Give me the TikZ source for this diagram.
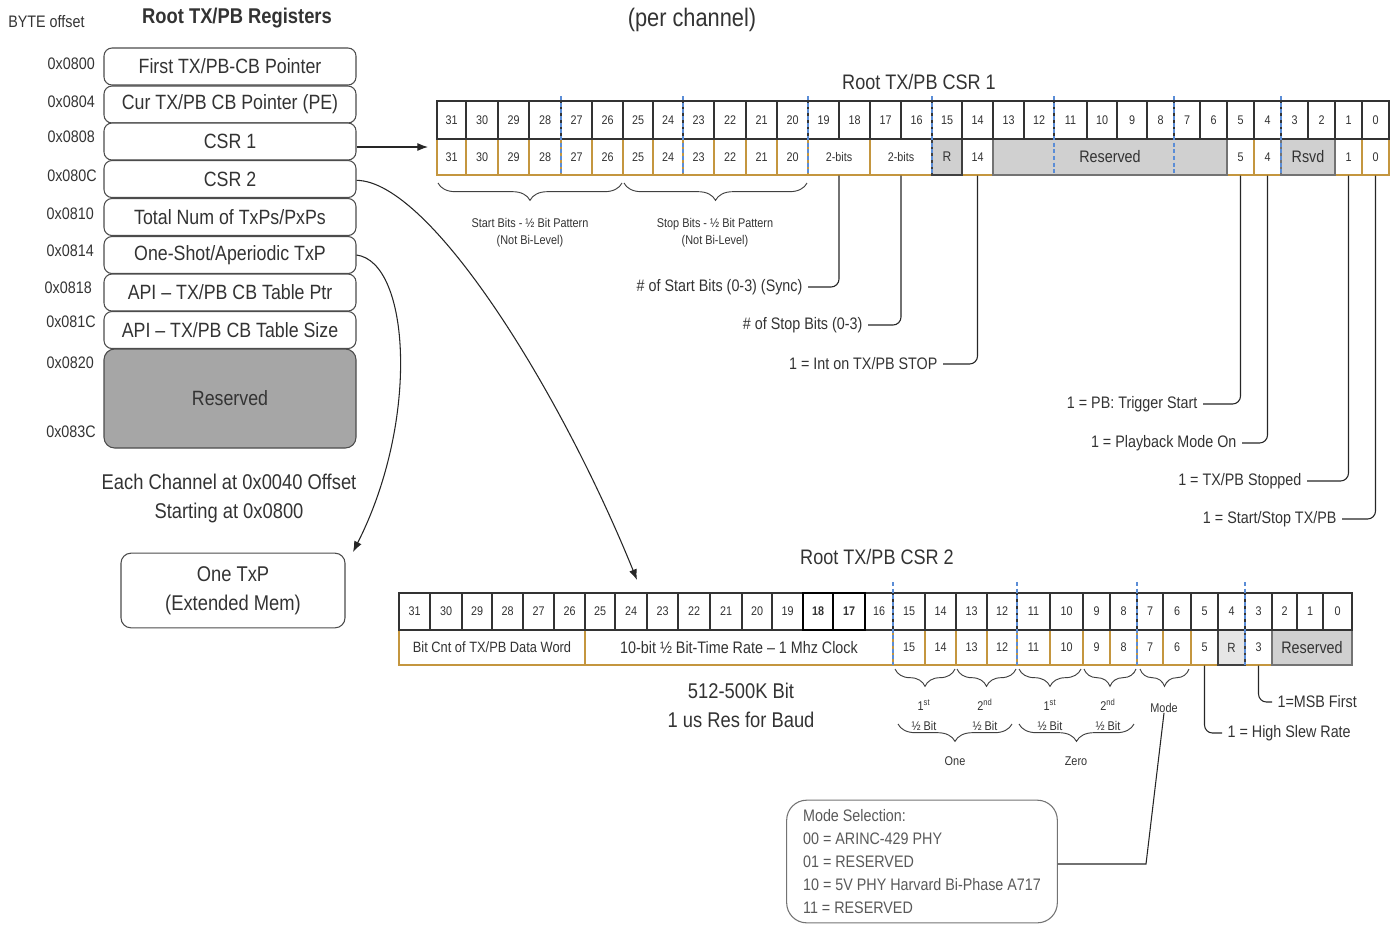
\documentclass[tikz,border=0pt]{standalone}
\usepackage{fontspec}
\setmainfont{Liberation Sans}[FakeStretch=0.86]
\usetikzlibrary{arrows.meta,decorations.pathreplacing}
\definecolor{orng}{HTML}{C4963F}
\definecolor{txt}{HTML}{333333}
\definecolor{resgray}{HTML}{D0D0D0}
\definecolor{darkres}{HTML}{A6A6A6}
\definecolor{lightr}{HTML}{E6E6E6}
\definecolor{dblue}{HTML}{5B8DD6}
\definecolor{modetxt}{HTML}{595959}
\newcommand{\fsz}[2]{\fontsize{#1}{#2}\selectfont}
\begin{document}
\begin{tikzpicture}[x=0.75pt,y=-0.75pt,
  reg/.style={draw=black!70, line width=0.8pt, fill=white, rounded corners=6pt, minimum width=189pt, minimum height=27.75pt, inner sep=0pt, font=\fsz{15.5pt}{18pt}, text=txt},
  offs/.style={anchor=east, inner sep=0pt, font=\fsz{12.5pt}{15pt}, text=txt},
  cellA/.style={draw=black!80, line width=0.8pt, fill=white, inner sep=0pt, font=\fsz{9.4pt}{11pt}, text=txt},
  cellO/.style={draw=orng, line width=0.9pt, fill=white, inner sep=0pt, font=\fsz{9.4pt}{11pt}, text=txt},
  cellG/.style={draw=black!55, line width=0.8pt, fill=resgray, inner sep=0pt, font=\fsz{12.5pt}{14pt}, text=txt},
  bluedash/.style={draw=dblue, line width=0.8pt, dash pattern=on 3pt off 2pt},
  brc/.style={decorate, decoration={brace, mirror, amplitude=#1}, draw=black!75, line width=0.7pt},
  small/.style={inner sep=0pt, font=\fsz{9.5pt}{12.75pt}, text=txt, align=center},
  lbl/.style={inner ysep=0pt, inner xsep=4pt, font=\fsz{12.5pt}{15pt}, text=txt},
  lead/.style={draw=black!85, line width=0.8pt, rounded corners=6pt},
  arr/.style={draw=black!85, line width=0.8pt, -{Latex[length=8pt,width=6pt]}},
  big/.style={inner sep=0pt, font=\fsz{16pt}{21.75pt}, text=txt, align=center}
]
\useasboundingbox (0,0) rectangle (1395,926);

% ---------- left panel ----------
\node[anchor=west, inner sep=0pt, font=\fsz{12.5pt}{15pt}, text=txt] (byte) at (8,22) {BYTE offset};
\node[inner sep=0pt, font=\bfseries\fsz{16pt}{19pt}, text=txt] (title) at (237,18) {Root TX/PB Registers};
\node[inner sep=0pt, font=\fsz{19pt}{22pt}, text=txt] (perch) at (692,20) {(per channel)};

\node[reg] (r1) at (230,66.5) {First TX/PB-CB Pointer};
\node[reg] (r2) at (230,104.5) {Cur TX/PB CB Pointer (PE)};
\node[reg] (r3) at (230,141.5) {CSR 1};
\node[reg] (r4) at (230,179) {CSR 2};
\node[reg] (r5) at (230,217) {Total Num of TxPs/PxPs};
\node[reg] (r6) at (230,255) {One-Shot/Aperiodic TxP};
\node[reg] (r7) at (230,292.5) {API -- TX/PB CB Table Ptr};
\node[reg] (r8) at (230,330) {API -- TX/PB CB Table Size};
\node[reg, fill=darkres, minimum height=74.25pt, rounded corners=8pt] (r9) at (230,398.5) {Reserved};

\node[offs] (o1) at (95,64) {0x0800};
\node[offs] (o2) at (95,102) {0x0804};
\node[offs] (o3) at (95,137) {0x0808};
\node[offs] (o4) at (97,176) {0x080C};
\node[offs] (o5) at (94,214) {0x0810};
\node[offs] (o6) at (94,251) {0x0814};
\node[offs] (o7) at (92,288) {0x0818};
\node[offs] (o8) at (96,322) {0x081C};
\node[offs] (o9) at (94,363) {0x0820};
\node[offs] (o10) at (96,432) {0x083C};

\node[big] (each) at (229,498.5) {Each Channel at 0x0040 Offset\\Starting at 0x0800};
\node[draw=black!70, line width=0.8pt, rounded corners=7.5pt, minimum width=168pt, minimum height=56pt, big] (onetxp) at (233,590.5) {One TxP\\(Extended Mem)};

% ---------- CSR 1 ----------
\node[inner sep=0pt, font=\fsz{15.75pt}{18pt}, text=txt] (csr1t) at (919,82) {Root TX/PB CSR 1};

\foreach \l/\r/\n in {437/466/31,466/498/30,498/529/29,529/561/28,561/592/27,592/623/26,623/653/25,653/683/24,683/714/23,714/746/22,746/777/21,777/808/20,962/993/14,1227/1254/5,1254/1281/4,1335/1362/1,1362/1389/0}{
  \node[cellO, minimum width={(\r-\l)*0.75pt}, minimum height=27pt] (c1s\n) at ({(\l+\r)/2},157) {\n};
}
\node[cellO, minimum width={62*0.75pt}, minimum height=27pt] (c1s19) at (839,157) {2-bits};
\node[cellO, minimum width={62*0.75pt}, minimum height=27pt] (c1s17) at (901,157) {2-bits};
\node[cellG, fill=resgray, draw=black!75, minimum width={30*0.75pt}, minimum height=27pt, font=\fsz{10.5pt}{12pt}] (c1s15) at (947,157) {R};
\node[cellG, minimum width={234*0.75pt}, minimum height=27pt] (c1s13) at (1110,157) {Reserved};
\node[cellG, minimum width={54*0.75pt}, minimum height=27pt] (c1s3) at (1308,157) {Rsvd};

\foreach \l/\r/\n in {437/466/31,466/498/30,498/529/29,529/561/28,561/592/27,592/623/26,623/653/25,653/683/24,683/714/23,714/746/22,746/777/21,777/808/20,808/839/19,839/870/18,870/901/17,901/932/16,932/962/15,962/993/14,993/1024/13,1024/1054/12,1054/1087/11,1087/1117/10,1117/1147/9,1147/1174/8,1174/1200/7,1200/1227/6,1227/1254/5,1254/1281/4,1281/1308/3,1308/1335/2,1335/1362/1,1362/1389/0}{
  \node[cellA, minimum width={(\r-\l)*0.75pt}, minimum height=28.5pt] (c1t\n) at ({(\l+\r)/2},120) {\n};
}
\foreach \x in {561,683,808,932,1054,1174,1281}{
  \draw[bluedash] (\x,96) -- (\x,175);
}

\draw[brc=13pt] (438,183) -- (622,183);
\draw[brc=13pt] (624,183) -- (807,183);
\node[small] (sb1) at (530,233) {Start Bits - ½ Bit Pattern\\(Not Bi-Level)};
\node[small] (sb2) at (715,233) {Stop Bits - ½ Bit Pattern\\(Not Bi-Level)};

\node[lbl, anchor=east] (l1) at (808,287) {\# of Start Bits (0-3) (Sync)};
\node[lbl, anchor=east] (l2) at (868,325) {\# of Stop Bits (0-3)};
\node[lbl, anchor=east] (l3) at (943,364) {1 = Int on TX/PB STOP};
\node[lbl, anchor=east] (l4) at (1203,404) {1 = PB: Trigger Start};
\node[lbl, anchor=east] (l5) at (1242,443) {1 = Playback Mode On};
\node[lbl, anchor=east] (l6) at (1307,481) {1 = TX/PB Stopped};
\node[lbl, anchor=east] (l7) at (1342,519) {1 = Start/Stop TX/PB};
\draw[lead] (c1s19.south) |- (l1.east);
\draw[lead] (c1s17.south) |- (l2.east);
\draw[lead] (c1s14.south) |- (l3.east);
\draw[lead] (c1s5.south) |- (l4.east);
\draw[lead] (c1s4.south) |- (l5.east);
\draw[lead] (c1s1.south) |- (l6.east);
\draw[lead] (c1s0.south) |- (l7.east);

% ---------- CSR 2 ----------
\node[inner sep=0pt, font=\fsz{15.75pt}{18pt}, text=txt] (csr2t) at (877,557) {Root TX/PB CSR 2};

\node[cellO, minimum width={186*0.75pt}, minimum height=26.25pt, font=\fsz{11.2pt}{13pt}] (c2bc) at (492,647.5) {Bit Cnt of TX/PB Data Word};
\node[cellO, minimum width={308*0.75pt}, minimum height=26.25pt, font=\fsz{12.5pt}{14pt}] (c2rate) at (739,647.5) {10-bit ½ Bit-Time Rate -- 1 Mhz Clock};
\foreach \l/\r/\n in {893/925/15,925/956/14,956/987/13,987/1017/12,1017/1050/11,1050/1083/10,1083/1110/9,1110/1137/8,1137/1163/7,1163/1191/6,1191/1218/5,1245/1272/3}{
  \node[cellO, minimum width={(\r-\l)*0.75pt}, minimum height=26.25pt] (c2s\n) at ({(\l+\r)/2},647.5) {\n};
}
\node[cellG, fill=lightr, draw=black!75, minimum width={27*0.75pt}, minimum height=26.25pt, font=\fsz{10pt}{12pt}] (c2s4) at (1231.5,647.5) {R};
\node[cellG, minimum width={80*0.75pt}, minimum height=26.25pt] (c2res) at (1312,647.5) {Reserved};

\foreach \l/\r/\n in {399/430/31,430/462/30,462/492/29,492/523/28,523/554/27,554/585/26,585/615/25,615/647/24,647/678/23,678/710/22,710/742/21,742/772/20,772/803/19,865/893/16,893/925/15,925/956/14,956/987/13,987/1017/12,1017/1050/11,1050/1083/10,1083/1110/9,1110/1137/8,1137/1163/7,1163/1191/6,1191/1218/5,1218/1245/4,1245/1272/3,1272/1297/2,1297/1323/1,1323/1352/0}{
  \node[cellA, minimum width={(\r-\l)*0.75pt}, minimum height=27.75pt] (c2t\n) at ({(\l+\r)/2},611.5) {\n};
}
\node[cellA, draw=black, line width=1pt, font=\bfseries\fsz{9.4pt}{11pt}, minimum width={30*0.75pt}, minimum height=27.75pt] (c2t18) at (818,611.5) {18};
\node[cellA, draw=black, line width=1pt, font=\bfseries\fsz{9.4pt}{11pt}, minimum width={32*0.75pt}, minimum height=27.75pt] (c2t17) at (849,611.5) {17};
\foreach \x in {893,1017,1137,1245}{
  \draw[bluedash] (\x,582) -- (\x,665);
}

\draw[brc=13pt] (895,669) -- (955,669);
\draw[brc=13pt] (957,669) -- (1016,669);
\draw[brc=13pt] (1019,669) -- (1081,669);
\draw[brc=13pt] (1084,669) -- (1136,669);
\draw[brc=13pt] (1140,669) -- (1189,669);
\node[small, font=\fsz{9.5pt}{15pt}] (h1) at (924,715) {1\textsuperscript{st}\\½ Bit};
\node[small, font=\fsz{9.5pt}{15pt}] (h2) at (985,715) {2\textsuperscript{nd}\\½ Bit};
\node[small, font=\fsz{9.5pt}{15pt}] (h3) at (1050,715) {1\textsuperscript{st}\\½ Bit};
\node[small, font=\fsz{9.5pt}{15pt}] (h4) at (1108,715) {2\textsuperscript{nd}\\½ Bit};
\node[small] (mode) at (1164,708) {Mode};
\draw[brc=13pt] (898,724) -- (1012,724);
\draw[brc=13pt] (1019,724) -- (1134,724);
\node[small] (one) at (955,761) {One};
\node[small] (zero) at (1076,761) {Zero};

\node[lbl, anchor=west] (msb) at (1272,702) {1=MSB First};
\node[lbl, anchor=west] (hs) at (1222,733) {1 = High Slew Rate};
\draw[lead] (c2s3.south) |- (msb.west);
\draw[lead] (c2s5.south) |- (hs.west);

\node[big] (baud) at (741,705.5) {512-500K Bit\\1 us Res for Baud};

\node[draw=black!55, line width=0.8pt, rounded corners=15pt, minimum width=203pt, minimum height=92pt, inner sep=0pt, align=left, font=\fsz{12.5pt}{17.25pt}, text=modetxt] (modebox) at (922,861.5) {Mode Selection:\\00 = ARINC-429 PHY\\01 = RESERVED\\10 = 5V PHY Harvard Bi-Phase A717\\11 = RESERVED};
\coordinate (mc) at (1146,864);
\draw[draw=black!85, line width=0.8pt] (mode.south) -- (mc) -- (mc -| modebox.east);

% ---------- arrows ----------
\coordinate (a1) at (428,147);
\draw[arr] (r3.east |- a1) -- (a1);
\coordinate (a2) at (637,580);
\draw[arr] ([yshift=-1pt]r4.east) .. controls (430,181) and (560,390) .. (a2);
\coordinate (a3) at (353,552);
\draw[arr] (r6.east) .. controls (410,262) and (420,420) .. (a3);
\end{tikzpicture}
\end{document}
